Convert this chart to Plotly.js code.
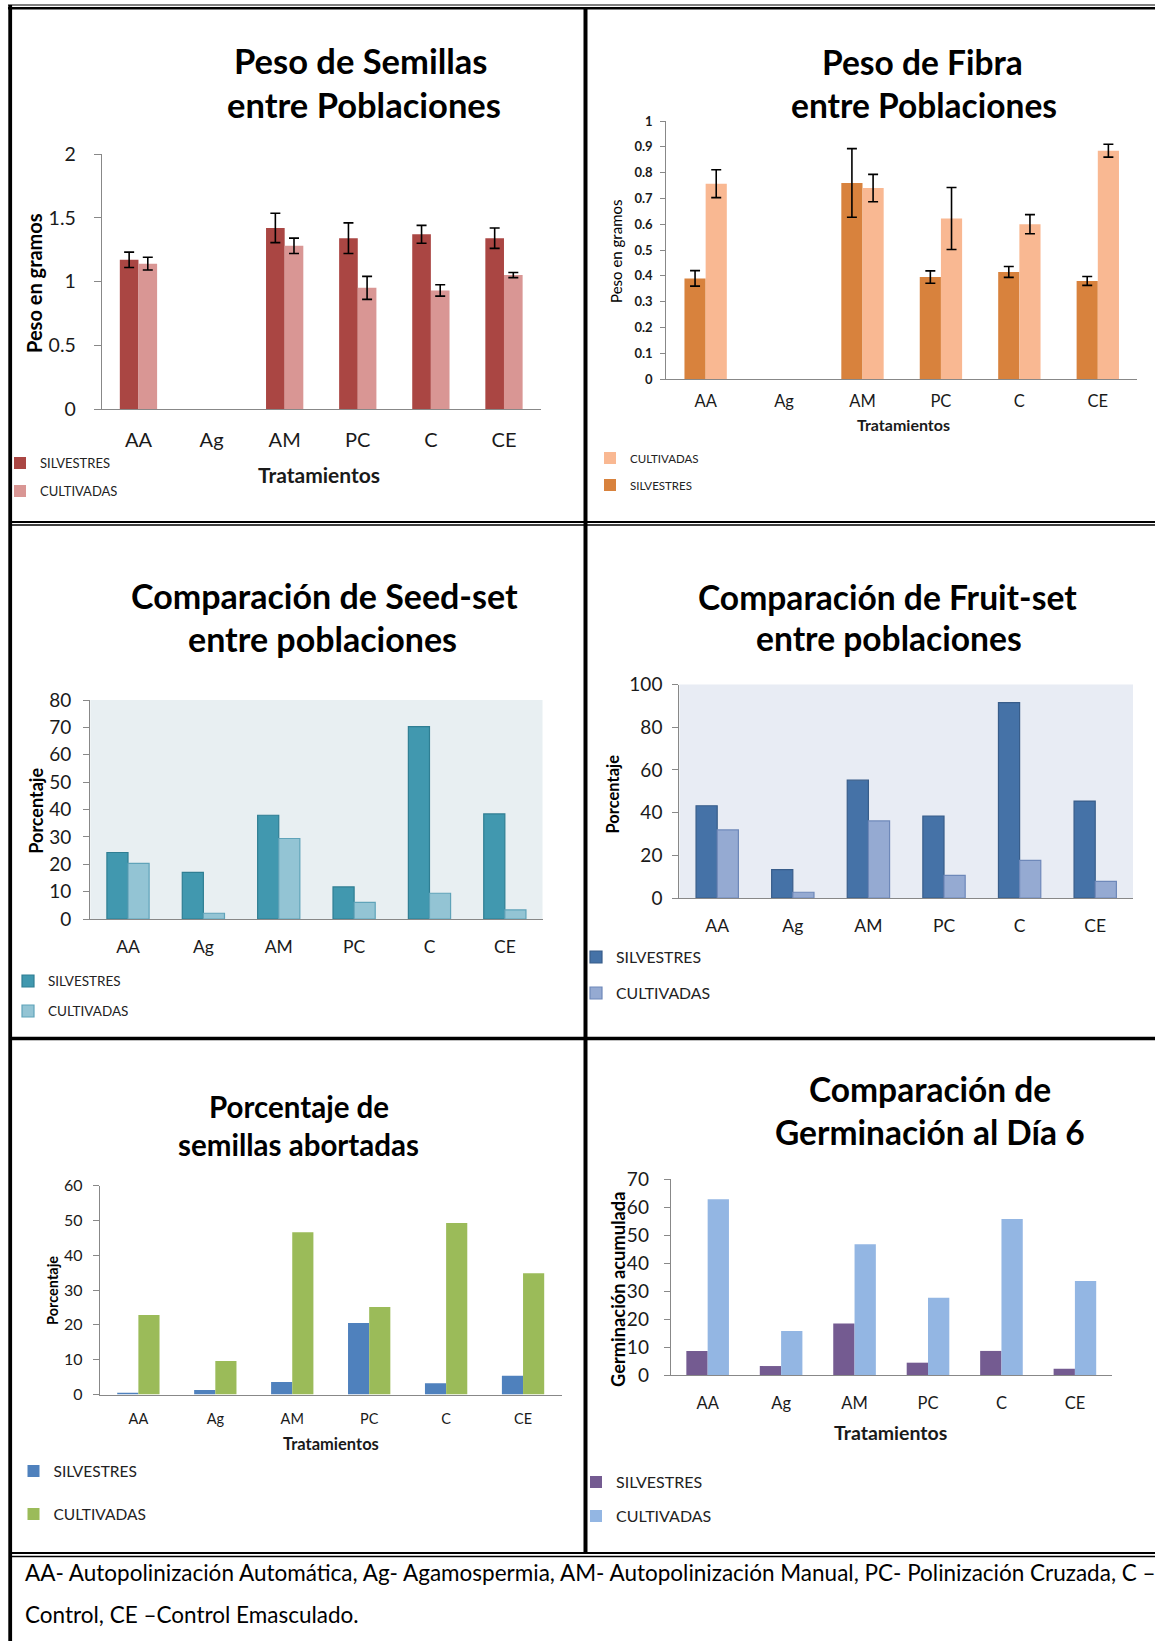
<!DOCTYPE html>
<html>
<head>
<meta charset="utf-8">
<script src="https://cdn.plot.ly/plotly-3.0.1.min.js"></script>
<style>
  html, body { margin: 0; padding: 0; background: #fff; }
  #fig { width: 1155px; height: 1641px; }
</style>
</head>
<body>
<div id="fig"></div>
<script>
// ---- data -------------------------------------------------------------
const tratamientos = ['AA', 'Ag', 'AM', 'PC', 'C', 'CE'];
const seriesNames = ['SILVESTRES', 'CULTIVADAS'];

// Peso de semillas (g), media y error
const semillasSilvestres    = [1.17, null, 1.42, 1.34, 1.37, 1.34];
const semillasSilvestresErr = [0.06, null, 0.115, 0.12, 0.07, 0.08];
const semillasCultivadas    = [1.14, null, 1.28, 0.95, 0.93, 1.05];
const semillasCultivadasErr = [0.05, null, 0.06, 0.09, 0.045, 0.02];

// Peso de fibra (g), media y error
const fibraSilvestres    = [0.39, null, 0.76, 0.395, 0.415, 0.38];
const fibraSilvestresErr = [0.03, null, 0.133, 0.024, 0.021, 0.017];
const fibraCultivadas    = [0.757, null, 0.74, 0.622, 0.60, 0.885];
const fibraCultivadasErr = [0.054, null, 0.053, 0.12, 0.037, 0.025];

// Seed-set (%)
const seedSetSilvestres = [24.3, 17.0, 37.9, 11.7, 70.3, 38.4];
const seedSetCultivadas = [20.3, 2.1, 29.4, 6.1, 9.4, 3.3];

// Fruit-set (%)
const fruitSetSilvestres = [43.2, 13.3, 55.2, 38.4, 91.5, 45.4];
const fruitSetCultivadas = [31.9, 2.7, 36.1, 10.6, 17.6, 7.8];

// Semillas abortadas (%)
const abortadasSilvestres = [0.5, 1.3, 3.6, 20.5, 3.2, 5.4];
const abortadasCultivadas = [22.8, 9.6, 46.6, 25.1, 49.2, 34.8];

// Germinación acumulada al día 6
const germinacionSilvestres = [8.6, 3.2, 18.4, 4.4, 8.6, 2.2];
const germinacionCultivadas = [62.8, 15.7, 46.7, 27.6, 55.7, 33.6];

const notaPie = [
  'AA- Autopolinización Automática, Ag- Agamospermia, AM- Autopolinización Manual, PC- Polinización Cruzada, C –',
  'Control, CE –Control Emasculado.'
];

// ---- page geometry helpers (pixels -> paper) --------------------------
const W = 1155, H = 1641;
const px = v => v / W;
const py = v => 1 - v / H;
const FONT = 'Lato, "Open Sans", sans-serif';
const AXIS_GRAY = '#888888';
const TEXT = '#1a1a1a';

const panels = [
  {
    title: ['Peso de Semillas', 'entre Poblaciones'], titlePos: [[360, 60], [363, 104.5]], titleSize: 34.5,
    silv: semillasSilvestres, silvErr: semillasSilvestresErr,
    cult: semillasCultivadas, cultErr: semillasCultivadasErr,
    colors: ['#AA4643', '#D99694'], outlines: null, bg: null,
    box: { x0: 101, x1: 540, y0: 409, y1: 154 }, range: [0, 2], dtick: 0.5, barW: 0.255,
    tick: { size: 19.5, standoff: 14, len: 7, bold: false }, cat: { size: 20, standoff: 13 },
    ytitle: { text: 'Peso en gramos', x: 33, y: 283, size: 20, bold: true },
    xtitle: { text: 'Tratamientos', x: 318, y: 474, size: 21 },
    legend: { x: 38.5, y: [463, 491], size: 13, reversed: false }
  },
  {
    title: ['Peso de Fibra', 'entre Poblaciones'], titlePos: [[922, 62], [924, 104.5]], titleSize: 33.5,
    silv: fibraSilvestres, silvErr: fibraSilvestresErr,
    cult: fibraCultivadas, cultErr: fibraCultivadasErr,
    colors: ['#D8823D', '#F9B892'], outlines: null, bg: null,
    box: { x0: 666, x1: 1137, y0: 379, y1: 121 }, range: [0, 1], dtick: 0.1, barW: 0.27,
    tick: { size: 13, standoff: 5, len: 5, bold: true }, cat: { size: 16.5, standoff: 7 },
    ytitle: { text: 'Peso en gramos', x: 615.5, y: 251, size: 15, bold: false },
    xtitle: { text: 'Tratamientos', x: 903, y: 424.5, size: 16 },
    legend: { x: 630, y: [458, 485], size: 11.5, reversed: true }
  },
  {
    title: ['Comparación de Seed-set', 'entre poblaciones'], titlePos: [[323.6, 595], [322, 638.4]], titleSize: 34,
    silv: seedSetSilvestres, silvErr: null,
    cult: seedSetCultivadas, cultErr: null,
    colors: ['#4198AF', '#93C4D4'], outlines: ['#2F7E93', '#5FA3B9'], bg: '#E8EFF2',
    box: { x0: 89.4, x1: 542, y0: 919, y1: 700 }, range: [0, 80], dtick: 10, barW: 0.28,
    tick: { size: 19, standoff: 8, len: 6, bold: false }, cat: { size: 17.5, standoff: 12 },
    ytitle: { text: 'Porcentaje', x: 34.7, y: 811, size: 18, bold: true },
    xtitle: null,
    legend: { x: 48, y: [981, 1011], size: 13.5, reversed: false }
  },
  {
    title: ['Comparación de Fruit-set', 'entre poblaciones'], titlePos: [[887, 596.6], [888.6, 638.4]], titleSize: 33.6,
    silv: fruitSetSilvestres, silvErr: null,
    cult: fruitSetCultivadas, cultErr: null,
    colors: ['#4572A7', '#95AAD2'], outlines: ['#385D8A', '#6E88B9'], bg: '#E8ECF4',
    box: { x0: 679, x1: 1133, y0: 898, y1: 684.5 }, range: [0, 100], dtick: 20, barW: 0.28,
    tick: { size: 19, standoff: 6, len: 6, bold: false }, cat: { size: 17.5, standoff: 12 },
    ytitle: { text: 'Porcentaje', x: 613, y: 794, size: 16.5, bold: true },
    xtitle: null,
    legend: { x: 616, y: [957, 993], size: 15.8, reversed: false }
  },
  {
    title: ['Porcentaje de', 'semillas abortadas'], titlePos: [[298, 1106.7], [297.5, 1144.6]], titleSize: 29.5,
    silv: abortadasSilvestres, silvErr: null,
    cult: abortadasCultivadas, cultErr: null,
    colors: ['#4F81BD', '#9BBB59'], outlines: null, bg: null,
    box: { x0: 99, x1: 561, y0: 1394.5, y1: 1185.5 }, range: [0, 60], dtick: 10, barW: 0.275,
    tick: { size: 16, standoff: 7, len: 6, bold: false }, cat: { size: 14.5, standoff: 11 },
    ytitle: { text: 'Porcentaje', x: 51, y: 1290, size: 14.5, bold: true },
    xtitle: { text: 'Tratamientos', x: 330, y: 1444, size: 16.5 },
    legend: { x: 53.5, y: [1471, 1514], size: 15.5, reversed: false }
  },
  {
    title: ['Comparación de', 'Germinación al Día 6'], titlePos: [[930, 1088.8], [930, 1131.5]], titleSize: 33.5,
    silv: germinacionSilvestres, silvErr: null,
    cult: germinacionCultivadas, cultErr: null,
    colors: ['#745B91', '#93B6E3'], outlines: null, bg: null,
    box: { x0: 670.5, x1: 1111.6, y0: 1375, y1: 1179 }, range: [0, 70], dtick: 10, barW: 0.29,
    tick: { size: 19, standoff: 11, len: 6, bold: false }, cat: { size: 16.5, standoff: 13 },
    ytitle: { text: 'Germinación acumulada', x: 617, y: 1288.5, size: 18.3, bold: true },
    xtitle: { text: 'Tratamientos', x: 890, y: 1432, size: 19.5 },
    legend: { x: 616, y: [1482, 1516], size: 16, reversed: false }
  }
];

const traces = [];
const annotations = [];
const shapes = [];
const layout = {
  width: W, height: H,
  margin: { l: 0, r: 0, t: 0, b: 0 },
  paper_bgcolor: '#ffffff',
  plot_bgcolor: 'rgba(0,0,0,0)',
  barmode: 'group',
  font: { family: FONT, color: TEXT },
  annotations, shapes
};

function errorSpec(arr) {
  if (!arr) return undefined;
  return { type: 'data', array: arr, visible: true, color: '#000000', thickness: 1.6, width: 5 };
}

panels.forEach((p, i) => {
  const n = i + 1;
  const xa = n === 1 ? 'x' : 'x' + n;
  const ya = n === 1 ? 'y' : 'y' + n;
  const legendId = n === 1 ? 'legend' : 'legend' + n;

  [[p.silv, p.silvErr], [p.cult, p.cultErr]].forEach(([vals, err], k) => {
    traces.push({
      type: 'bar',
      name: seriesNames[k],
      x: tratamientos,
      y: vals,
      xaxis: xa, yaxis: ya,
      width: p.barW,
      offset: k === 0 ? -p.barW : 0,
      marker: {
        color: p.colors[k],
        line: p.outlines ? { color: p.outlines[k], width: 1.2 } : { width: 0 }
      },
      error_y: errorSpec(err),
      legend: legendId,
      legendgroup: 'g' + n + '_' + k,
      legendrank: p.legend.reversed ? 2000 - k : 1000 + k,
      hoverinfo: 'x+y+name'
    });
  });

  layout['xaxis' + (n === 1 ? '' : n)] = {
    domain: [px(p.box.x0), px(p.box.x1)],
    anchor: ya,
    type: 'category',
    categoryorder: 'array', categoryarray: tratamientos,
    range: [-0.5, tratamientos.length - 0.5],
    showline: true, linecolor: AXIS_GRAY, linewidth: 1.2,
    ticks: '', showgrid: false, zeroline: false,
    tickfont: { family: FONT, size: p.cat.size, color: TEXT },
    ticklabelstandoff: p.cat.standoff,
    fixedrange: true
  };
  layout['yaxis' + (n === 1 ? '' : n)] = {
    domain: [py(p.box.y0), py(p.box.y1)],
    anchor: xa,
    range: p.range, dtick: p.dtick, tick0: 0,
    showline: true, linecolor: AXIS_GRAY, linewidth: 1.2,
    ticks: 'outside', ticklen: p.tick.len, tickcolor: AXIS_GRAY, tickwidth: 1,
    showgrid: false, zeroline: false,
    tickfont: { family: FONT, size: p.tick.size, color: TEXT, weight: p.tick.bold ? 700 : 400 },
    ticklabelstandoff: p.tick.standoff,
    fixedrange: true
  };

  if (p.bg) {
    shapes.push({
      type: 'rect', xref: xa + ' domain', yref: ya + ' domain',
      x0: 0, x1: 1, y0: 0, y1: 1, fillcolor: p.bg, line: { width: 0 }, layer: 'below'
    });
  }

  // chart title, two lines
  p.title.forEach((t, j) => {
    annotations.push({
      xref: 'paper', yref: 'paper', x: px(p.titlePos[j][0]), y: py(p.titlePos[j][1]),
      xanchor: 'center', yanchor: 'middle', showarrow: false, text: t,
      font: { family: FONT, size: p.titleSize, color: '#000', weight: 700 }
    });
  });

  // axis titles
  annotations.push({
    xref: 'paper', yref: 'paper', x: px(p.ytitle.x), y: py(p.ytitle.y),
    xanchor: 'center', yanchor: 'middle', showarrow: false, textangle: -90,
    text: p.ytitle.text,
    font: { family: FONT, size: p.ytitle.size, color: '#000', weight: p.ytitle.bold ? 700 : 400 }
  });
  if (p.xtitle) {
    annotations.push({
      xref: 'paper', yref: 'paper', x: px(p.xtitle.x), y: py(p.xtitle.y),
      xanchor: 'center', yanchor: 'middle', showarrow: false,
      text: p.xtitle.text,
      font: { family: FONT, size: p.xtitle.size, color: '#1a1a1a', weight: 700 }
    });
  }

  // legend
  const fs = p.legend.size;
  const itemH = Math.max(fs * 1.3, 16) + 3;
  layout[legendId] = {
    x: px(p.legend.x - 40), xanchor: 'left',
    y: py(p.legend.y[0] - itemH / 2 - 5), yanchor: 'top',
    orientation: 'v',
    traceorder: 'grouped',
    tracegroupgap: Math.max(0, (p.legend.y[1] - p.legend.y[0]) - itemH),
    bgcolor: 'rgba(0,0,0,0)', borderwidth: 0,
    font: { family: FONT, size: fs, color: '#222' },
    itemclick: false, itemdoubleclick: false
  };
});

// footnote
notaPie.forEach((t, j) => {
  annotations.push({
    xref: 'paper', yref: 'paper', x: px(22), y: py(j === 0 ? 1572 : 1614),
    xanchor: 'left', yanchor: 'middle', showarrow: false, text: t,
    font: { family: FONT, size: 22.5, color: '#000' }
  });
});

// table rules: [x0, y0, x1, y1, width]
const rules = [
  [7, 5, 1155, 5, 1],
  [7, 8.2, 1155, 8.2, 2.6],
  [9.2, 5, 9.2, 1641, 3.8],
  [585, 8, 585, 1553, 4],
  [9, 522, 1155, 522, 1.8],
  [9, 525, 1155, 525, 1.6],
  [9, 1038.5, 1155, 1038.5, 3.3],
  [9, 1553, 1155, 1553, 1.8],
  [9, 1556.5, 1155, 1556.5, 1.6]
];
rules.forEach(r => {
  shapes.push({
    type: 'line', xref: 'paper', yref: 'paper',
    x0: px(r[0]), y0: py(r[1]), x1: px(r[2]), y1: py(r[3]),
    line: { color: '#000', width: r[4] }, layer: 'above'
  });
});

Plotly.newPlot('fig', traces, layout, { displayModeBar: false, staticPlot: true });
</script>
</body>
</html>
